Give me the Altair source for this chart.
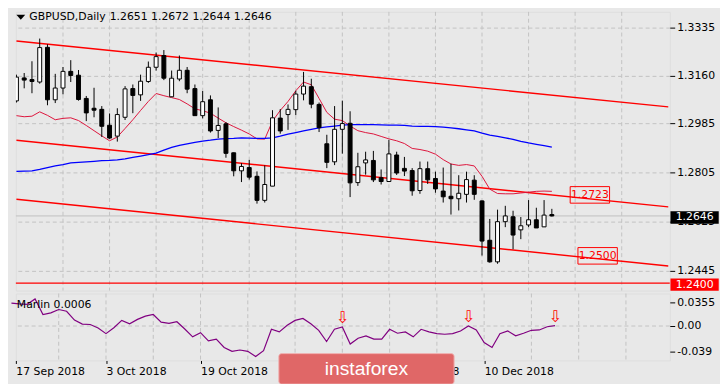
import json
import altair as alt
import pandas as pd

# ---------------- data ----------------
opens = [1.3067, 1.3151, 1.3145, 1.3136, 1.3263, 1.3071, 1.3114, 1.3175, 1.3161, 1.3076,
         1.3040, 1.3036, 1.2978, 1.2938, 1.3007, 1.3112, 1.3089, 1.3138, 1.3190, 1.3233,
         1.3082, 1.3147, 1.3179, 1.3112, 1.3013, 1.3071, 1.2959, 1.2983, 1.2877, 1.2811,
         1.2823, 1.2791, 1.2703, 1.2755, 1.3004, 1.3017, 1.3035, 1.3092, 1.3119, 1.3054,
         1.2910, 1.2844, 1.2963, 1.2985, 1.2768, 1.2840, 1.2849, 1.2786, 1.2772, 1.2869,
         1.2820, 1.2812, 1.2739, 1.2819, 1.2783, 1.2737, 1.2718, 1.2709, 1.2725, 1.2777,
         1.2701, 1.2557, 1.2478, 1.2625, 1.2643, 1.2595, 1.2613, 1.2632, 1.2606, 1.2651]
highs = [1.3163, 1.3169, 1.3212, 1.3295, 1.3274, 1.3166, 1.3191, 1.3216, 1.3180, 1.3085,
         1.3115, 1.3048, 1.3021, 1.3040, 1.3121, 1.3127, 1.3163, 1.3211, 1.3244, 1.3253,
         1.3178, 1.3233, 1.3191, 1.3127, 1.3103, 1.3087, 1.3043, 1.2989, 1.2878, 1.2839,
         1.2851, 1.2809, 1.2831, 1.3033, 1.3037, 1.3054, 1.3104, 1.3173, 1.3148, 1.3061,
         1.2943, 1.3048, 1.3068, 1.3029, 1.2877, 1.2881, 1.2884, 1.2816, 1.2924, 1.2881,
         1.2862, 1.2821, 1.2845, 1.2845, 1.2808, 1.2823, 1.2837, 1.2795, 1.2808, 1.2795,
         1.2703, 1.2635, 1.2669, 1.2683, 1.2665, 1.2642, 1.2704, 1.2676, 1.2704, 1.2672]
lows = [1.3061, 1.3113, 1.3095, 1.3130, 1.3051, 1.3059, 1.3091, 1.3136, 1.3068, 1.2993,
        1.3007, 1.2935, 1.2928, 1.2918, 1.2997, 1.3022, 1.3067, 1.3133, 1.3178, 1.3143,
        1.3081, 1.3139, 1.3095, 1.3013, 1.3003, 1.2951, 1.2931, 1.2859, 1.2791, 1.2770,
        1.2779, 1.2691, 1.2695, 1.2755, 1.2947, 1.2961, 1.3015, 1.3069, 1.3040, 1.2953,
        1.2821, 1.2832, 1.2874, 1.2715, 1.2756, 1.2797, 1.2770, 1.2761, 1.2772, 1.2796,
        1.2792, 1.2720, 1.2727, 1.2763, 1.2731, 1.2695, 1.2651, 1.2666, 1.2695, 1.2705,
        1.2501, 1.2475, 1.2471, 1.2605, 1.2524, 1.2561, 1.2605, 1.2602, 1.2606, 1.2644]
closes = [1.3154, 1.3143, 1.3138, 1.3262, 1.3071, 1.3114, 1.3175, 1.3160, 1.3072, 1.3023,
          1.3033, 1.2974, 1.2931, 1.3017, 1.3111, 1.3087, 1.3139, 1.3190, 1.3229, 1.3150,
          1.3150, 1.3179, 1.3110, 1.3013, 1.3064, 1.2957, 1.2977, 1.2875, 1.2811, 1.2827,
          1.2788, 1.2703, 1.2761, 1.3005, 1.2957, 1.3036, 1.3092, 1.3121, 1.3055, 1.2969,
          1.2842, 1.2963, 1.2984, 1.2767, 1.2826, 1.2851, 1.2778, 1.2772, 1.2873, 1.2803,
          1.2810, 1.2738, 1.2819, 1.2778, 1.2745, 1.2716, 1.2709, 1.2729, 1.2779, 1.2725,
          1.2554, 1.2478, 1.2625, 1.2646, 1.2576, 1.2610, 1.2632, 1.2602, 1.2649, 1.2646]
ma_fast = [1.3013, 1.3009, 1.3011, 1.3027, 1.3014, 1.2998, 1.3003, 1.3005, 1.2995, 1.2977,
           1.2958, 1.2939, 1.2921, 1.2935, 1.2966, 1.2998, 1.3032, 1.3065, 1.3094, 1.3086,
           1.3079, 1.3072, 1.3056, 1.3038, 1.3031, 1.3022, 1.3004, 1.2987, 1.2973, 1.2960,
           1.2946, 1.2928, 1.2927, 1.2993, 1.3032, 1.3065, 1.3104, 1.3136, 1.3126, 1.3076,
           1.3025, 1.3000, 1.2995, 1.2975, 1.2958, 1.2951, 1.2946, 1.2937, 1.2928, 1.2921,
           1.2911, 1.2893, 1.2889, 1.2883, 1.2872, 1.2852, 1.2836, 1.2831, 1.2834, 1.2829,
           1.2791, 1.2744, 1.2728, 1.2727, 1.2727, 1.2730, 1.2733, 1.2736, 1.2737, 1.2736]
ma_slow = [1.2809, 1.2810, 1.2811, 1.2816, 1.2823, 1.2829, 1.2834, 1.2840, 1.2842, 1.2844,
           1.2846, 1.2848, 1.2849, 1.2851, 1.2855, 1.2860, 1.2865, 1.2870, 1.2876, 1.2887,
           1.2897, 1.2904, 1.2910, 1.2915, 1.2920, 1.2923, 1.2927, 1.2929, 1.2930, 1.2932,
           1.2931, 1.2930, 1.2930, 1.2932, 1.2938, 1.2945, 1.2951, 1.2957, 1.2963, 1.2968,
           1.2972, 1.2975, 1.2978, 1.2980, 1.2980, 1.2980, 1.2980, 1.2979, 1.2978, 1.2978,
           1.2977, 1.2975, 1.2974, 1.2974, 1.2973, 1.2971, 1.2968, 1.2965, 1.2961, 1.2957,
           1.2949, 1.2942, 1.2937, 1.2932, 1.2926, 1.2919, 1.2913, 1.2908, 1.2903, 1.2898]
marlin = [0.0350, 0.0338, 0.0330, 0.0413, 0.0176, 0.0200, 0.0251, 0.0225, 0.0090, 0.0030,
          0.0023, -0.0030, -0.0116, -0.0026, 0.0086, 0.0035, 0.0101, 0.0150, 0.0176, 0.0060,
          0.0041, 0.0065, -0.0045, -0.0165, -0.0101, -0.0225, -0.0200, -0.0326, -0.0386, -0.0365,
          -0.0386, -0.0465, -0.0375, -0.0050, -0.0090, 0.0011, 0.0086, 0.0116, 0.0035, -0.0065,
          -0.0236, -0.0050, -0.0015, -0.0275, -0.0185, -0.0150, -0.0200, -0.0200, -0.0050, -0.0110,
          -0.0090, -0.0165, -0.0050, -0.0090, -0.0116, -0.0125, -0.0116, -0.0075, 0.0000, -0.0060,
          -0.0251, -0.0326, -0.0116, -0.0075, -0.0150, -0.0110, -0.0065, -0.0060, -0.0011, 0.0006]

date_labels = ["17 Sep 2018", "3 Oct 2018", "19 Oct 2018", "6 Nov 2018", "22 Nov 2018", "10 Dec 2018"]
price_ticks = [1.3335, 1.3160, 1.2985, 1.2805, 1.2625, 1.2445]
marlin_ticks = [0.0355, 0.0, -0.039]

channel_idx = [0, 84]
channel_upper = [1.3286, 1.3045]
channel_mid = [1.2923, 1.2679]
channel_low = [1.2707, 1.2463]
support_level = 1.2400
level_labels = [1.2723, 1.2500]
level_label_idx = [73.9, 74.9]
signal_idx = [42, 58, 69]

symbol = "GBPUSD,Daily"
indicator_name = "Marlin"

# ---------------- layout / style ----------------
FONT = "DejaVu Sans"
BG = "#e8e8e8"
GRID = "#c2c2c2"
W, H1, H2 = 664, 283, 68

xs = alt.Scale(domain=[0.5625, 83.5625], nice=False, zero=False)
ys = alt.Scale(domain=[1.23729, 1.33927], nice=False, zero=False)
ms = alt.Scale(domain=[-0.0525, 0.0495], nice=False, zero=False)

n = len(opens)
df = pd.DataFrame({"i": list(range(n)), "o": opens, "h": highs, "l": lows, "c": closes,
                   "fast": ma_fast, "slow": ma_slow, "marlin": marlin})
grid_df = pd.DataFrame({"i": list(range(6, 84, 6))})

y_axis_main = alt.Axis(orient="right", values=price_ticks, format=".4f", title=None,
                       grid=True, gridColor=GRID, gridDash=[4, 3], gridWidth=1,
                       tickSize=5, tickColor="black", domain=False, labelPadding=2,
                       labelFont=FONT, labelFontSize=11, labelColor="black",
                       labelFlush=False, labelOverlap=False)
m_axis = alt.Axis(orient="right", values=marlin_ticks, title=None, grid=False,
                  labelExpr="datum.value == 0 ? '0.00' : toString(datum.value)",
                  tickSize=5, tickColor="black", domain=False, labelPadding=2,
                  labelFont=FONT, labelFontSize=11, labelColor="black",
                  labelFlush=False, labelOverlap=False)
tick_pos = [0.5625] + [12 * k for k in range(1, len(date_labels))]
x_axis_low = alt.Axis(values=tick_pos, title=None, grid=False, domain=False,
                      labelExpr=json.dumps(date_labels) + "[round(datum.value / 12)]",
                      tickSize=3, tickColor="black", labelAlign="left", labelBaseline="top",
                      labelPadding=2, labelFont=FONT, labelFontSize=11, labelColor="black",
                      labelFlush=False, labelOverlap=False)

Xm = alt.X("i:Q", scale=xs, axis=None)
Xl = alt.X("i:Q", scale=xs, axis=x_axis_low)


def Yp(f):
    return alt.Y(f, type="quantitative", scale=ys, axis=y_axis_main)


def Ym(f):
    return alt.Y(f, type="quantitative", scale=ms, axis=m_axis)


# ---------------- main panel ----------------
vgrid = alt.Chart(grid_df).mark_rule(color=GRID, strokeDash=[4, 3], strokeWidth=1).encode(x=Xm)

bid = alt.Chart(pd.DataFrame({"p": [closes[-1]]})).mark_rule(color="#c0c0c0", strokeWidth=1).encode(y=Yp("p"))

ch_rows = []
for name, vals in (("upper", channel_upper), ("mid", channel_mid), ("low", channel_low)):
    for ix, pv in zip(channel_idx, vals):
        ch_rows.append({"i": ix, "p": pv, "line": name})
channels = alt.Chart(pd.DataFrame(ch_rows)).mark_line(color="#ff0000", strokeWidth=1.4, clip=True).encode(
    x=Xm, y=Yp("p"), detail="line:N")

support = alt.Chart(pd.DataFrame({"p": [support_level]})).mark_rule(color="#ff0000", strokeWidth=1.4).encode(y=Yp("p"))

base = alt.Chart(df)
fast = base.mark_line(color="#dc143c", strokeWidth=1, clip=True).encode(x=Xm, y=Yp("fast"))
slow = base.mark_line(color="#0000ff", strokeWidth=1.3, clip=True).encode(x=Xm, y=Yp("slow"))
wicks = base.mark_rule(color="black", strokeWidth=1, clip=True).encode(x=Xm, y=Yp("l"), y2="h:Q")
bodies = base.mark_bar(size=4, stroke="black", strokeWidth=1, clip=True).encode(
    x=Xm, y=Yp("o"), y2="c:Q",
    fill=alt.condition("datum.c >= datum.o", alt.value("white"), alt.value("black")))

lvl_df = pd.DataFrame({"i": level_label_idx, "p": level_labels,
                       "t": [f"{v:.4f}" for v in level_labels]})
lvl_box = alt.Chart(lvl_df).mark_point(shape="M-1,-0.42H1V0.42H-1Z", size=1600, filled=False,
                                       color="#ff0000", strokeWidth=1, opacity=1).encode(x=Xm, y=Yp("p"))
lvl_txt = alt.Chart(lvl_df).mark_text(color="#ff0000", font=FONT, fontSize=11).encode(x=Xm, y=Yp("p"), text="t:N")

bid_df = pd.DataFrame({"p": [closes[-1]], "t": [f"{closes[-1]:.4f}"]})
bid_box = alt.Chart(bid_df).mark_point(shape="M-1,-0.26H1V0.26H-1Z", size=2401, filled=True, color="black",
                                       opacity=1, yOffset=1.5).encode(x=alt.value(689.2), y=Yp("p"))
bid_txt = alt.Chart(bid_df).mark_text(color="white", font=FONT, fontSize=11, yOffset=1.5).encode(
    x=alt.value(689.2), y=Yp("p"), text="t:N")

sup_df = pd.DataFrame({"p": [support_level], "t": [f"{support_level:.4f}"]})
sup_box = alt.Chart(sup_df).mark_point(shape="M-1,-0.25H1V0.25H-1Z", size=2401, filled=True, color="#ff0000",
                                       opacity=1, yOffset=1.5).encode(x=alt.value(689.2), y=Yp("p"))
sup_txt = alt.Chart(sup_df).mark_text(color="white", font=FONT, fontSize=11, yOffset=1.5).encode(
    x=alt.value(689.2), y=Yp("p"), text="t:N")

tri = alt.Chart(pd.DataFrame({"t": [symbol]})).mark_point(shape="M-1,-0.55L1,-0.55L0,0.55Z", size=81,
                                                          filled=True, color="black", opacity=1).encode(
    x=alt.value(5), y=alt.value(5.5))
title1 = alt.Chart(pd.DataFrame({"t": [symbol]})).mark_text(align="left", baseline="middle", font=FONT,
                                                           fontSize=11, color="black").encode(
    x=alt.value(13.7), y=alt.value(5.5), text="t:N")
ohlc_txt = " ".join(f"{v:.4f}" for v in (opens[-1], highs[-1], lows[-1], closes[-1]))
title2 = alt.Chart(pd.DataFrame({"t": [ohlc_txt]})).mark_text(align="left", baseline="middle", font=FONT,
                                                             fontSize=11, color="black").encode(
    x=alt.value(95.3), y=alt.value(5.5), text="t:N")

main = alt.layer(vgrid, bid, channels, support, fast, slow, wicks, bodies, lvl_box, lvl_txt,
                 bid_box, bid_txt, sup_box, sup_txt, tri, title1, title2).properties(width=W, height=H1)

# ---------------- indicator panel ----------------
vgrid2 = alt.Chart(grid_df).mark_rule(color=GRID, strokeDash=[4, 3], strokeWidth=1).encode(x=Xl)
zero = alt.Chart(pd.DataFrame({"v": [0.0]})).mark_rule(color=GRID, strokeDash=[4, 3], strokeWidth=1).encode(y=Ym("v"))
mline = base.mark_line(color="#800080", strokeWidth=1.2).encode(x=Xl, y=Ym("marlin"))
sig_df = pd.DataFrame({"i": signal_idx, "v": [marlin[k] for k in signal_idx]})
arrows = alt.Chart(sig_df).mark_text(text="\u21e9", color="#ff0000", font=FONT, fontSize=16, dy=-9).encode(
    x=Xl, y=Ym("v"))
mlabel = alt.Chart(pd.DataFrame({"t": [f"{indicator_name} {marlin[-1]:.4f}"]})).mark_text(
    align="left", baseline="middle", font=FONT, fontSize=11, color="black").encode(
    x=alt.value(1), y=alt.value(12), text="t:N")
wm_box = alt.Chart(pd.DataFrame({"t": ["instaforex"]})).mark_rect(
    fill="#e06767", stroke="#f0b4b4", strokeWidth=1, cornerRadius=3).encode(
    x=alt.value(267), x2=alt.value(445), y=alt.value(61), y2=alt.value(92))
wm_txt = alt.Chart(pd.DataFrame({"t": ["instaforex"]})).mark_text(
    align="left", baseline="alphabetic", font="Liberation Sans", fontSize=19.5, color="white").encode(
    x=alt.value(313.7), y=alt.value(83), text="t:N")

lower = alt.layer(vgrid2, zero, mline, arrows, mlabel, wm_box, wm_txt).properties(width=W, height=H2)

chart = alt.vconcat(main, lower, spacing=1, padding=0, background=BG).configure_view(
    fill=BG, stroke="black", strokeWidth=1).configure(font=FONT)

chart.save("out.html", embed_options={"renderer": "svg", "actions": False})
